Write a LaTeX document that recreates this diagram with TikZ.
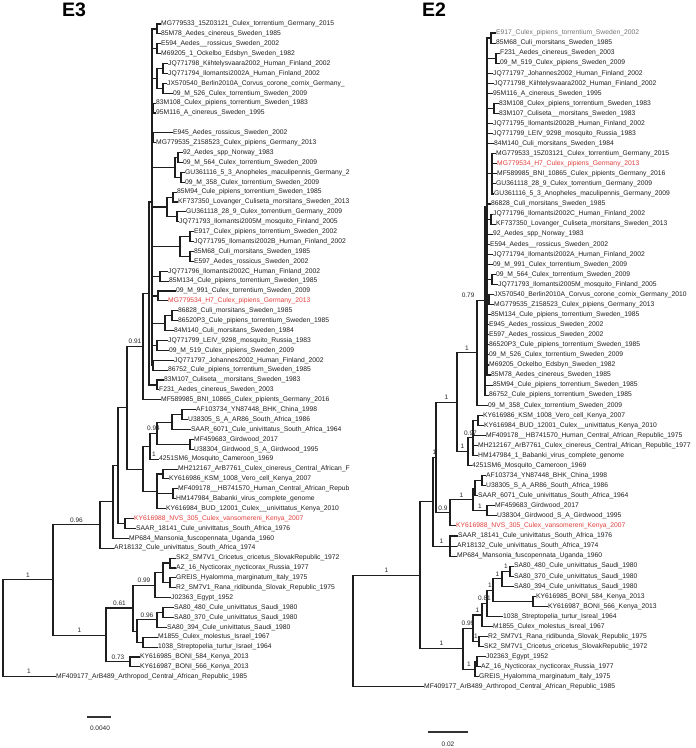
\documentclass[tikz,border=0pt]{standalone}
\usepackage{fontspec}
\setmainfont{Liberation Sans}
\usetikzlibrary{positioning}
\definecolor{branchgrey}{HTML}{1E1E1E}
\definecolor{tipred}{HTML}{E0403C}
\tikzset{
  leaf/.style={anchor=west,inner xsep=1pt,inner ysep=0pt,font=\fontsize{6.75}{7}\selectfont,text=black!88},
  redleaf/.style={leaf,text=tipred},
  paleleaf/.style={leaf,text=black!55},
  branch/.style={draw=branchgrey,line width=1.1pt,line cap=rect},
  support/.style={pos=0.75,anchor=south,yshift=2.2pt,inner sep=0pt,font=\fontsize{6.5}{7}\selectfont,text=black!85},
  supportleft/.style={support,pos=0.5,anchor=south east,xshift=-2pt},
  paneltitle/.style={font=\fontsize{19.5}{20}\selectfont\bfseries},
  scalebar/.style={draw=black!80,line width=1.3pt},
  scaletext/.style={font=\fontsize{6.5}{7}\selectfont,text=black!85}
}
\begin{document}
\begin{tikzpicture}[x=1pt,y=1pt]
\useasboundingbox (0,0) rectangle (696,-748);

% panel titles
\node[paneltitle] (titleE3) at (74,-10) {E3};
\node[paneltitle] (titleE2) at (434,-10) {E2};

%%%%%%%%%%%%%%%% E3 tree
\begin{scope}[y=-9.89pt,yshift=-14.11pt]
\foreach \i/\x/\t in {
 1/160/MG779533\_15Z03121\_Culex\_torrentium\_Germany\_2015,
 2/160/85M78\_Aedes\_cinereus\_Sweden\_1985,
 3/160/E594\_Aedes\_\_rossicus\_Sweden\_2002,
 4/160/M69205\_1\_Ockelbo\_Edsbyn\_Sweden\_1982,
 5/167/JQ771798\_Kiihtelysvaara2002\_Human\_Finland\_2002,
 6/167/JQ771794\_Ilomantsi2002A\_Human\_Finland\_2002,
 7/166/JX570540\_Berlin2010A\_Corvus\_corone\_cornix\_Germany\_,
 8/172/09\_M\_526\_Culex\_torrentium\_Sweden\_2009,
 9/155/83M108\_Culex\_pipiens\_torrentium\_Sweden\_1983,
 10/155/95M116\_A\_cinereus\_Sweden\_1995,
 11/172/E945\_Aedes\_rossicus\_Sweden\_2002,
 12/155/MG779535\_Z158523\_Culex\_pipiens\_Germany\_2013,
 13/182/92\_Aedes\_spp\_Norway\_1983,
 14/182/09\_M\_564\_Culex\_torrentium\_Sweden\_2009,
 15/184/GU361116\_5\_3\_Anopheles\_maculipennis\_Germany\_2,
 16/184/09\_M\_358\_Culex\_torrentium\_Sweden\_2009,
 17/176/85M94\_Cule\_pipiens\_torrentium\_Sweden\_1985,
 18/177/KF737350\_Lovanger\_Culiseta\_morsitans\_Sweden\_2013,
 19/185/GU361118\_28\_9\_Culex\_torrentium\_Germany\_2009,
 20/178/JQ771793\_Ilomantsi2005M\_mosquito\_Finland\_2005,
 21/193/E917\_Culex\_pipiens\_torrentium\_Sweden\_2002,
 22/193/JQ771795\_Ilomantsi2002B\_Human\_Finland\_2002,
 23/193/85M68\_Culi\_morsitans\_Sweden\_1985,
 24/193/E597\_Aedes\_rossicus\_Sweden\_2002,
 25/167/JQ771796\_Ilomantsi2002C\_Human\_Finland\_2002,
 26/168/85M134\_Cule\_pipiens\_torrentium\_Sweden\_1985,
 27/175/09\_M\_991\_Culex\_torrentium\_Sweden\_2009,
 29/177/86828\_Culi\_morsitans\_Sweden\_1985,
 30/177/86520P3\_Cule\_pipiens\_torrentium\_Sweden\_1985,
 31/173/84M140\_Culi\_morsitans\_Sweden\_1984,
 32/167/JQ771799\_LEIV\_9298\_mosquito\_Russia\_1983,
 33/168/09\_M\_519\_Culex\_pipiens\_Sweden\_2009,
 34/173/JQ771797\_Johannes2002\_Human\_Finland\_2002,
 35/167/86752\_Cule\_pipiens\_torrentium\_Sweden\_1985,
 36/163/83M107\_Culiseta\_\_morsitans\_Sweden\_1983,
 37/158/F231\_Aedes\_cinereus\_Sweden\_2003,
 38/160/MF589985\_BNI\_10865\_Culex\_pipients\_Germany\_2016,
 39/195/AF103734\_YN87448\_BHK\_China\_1998,
 40/187/U38305\_S\_A\_AR86\_South\_Africa\_1986,
 41/190/SAAR\_6071\_Cule\_univittatus\_South\_Africa\_1964,
 42/193/MF459683\_Girdwood\_2017,
 43/193/U38304\_Girdwood\_S\_A\_Girdwood\_1995,
 44/158/4251SM6\_Mosquito\_Cameroon\_1969,
 45/177/MH212167\_ArB7761\_Culex\_cinereus\_Central\_African\_F,
 46/168/KY616986\_KSM\_1008\_Vero\_cell\_Kenya\_2007,
 47/177/MF409178\_\_HB741570\_Human\_Central\_African\_Repub,
 48/175/HM147984\_Babanki\_virus\_complete\_genome,
 49/165/KY616984\_BUD\_12001\_Culex\_\_univittatus\_Kenya\_2010,
 51/135/SAAR\_18141\_Cule\_univittatus\_South\_Africa\_1976,
 52/128/MP684\_Mansonia\_fuscopennata\_Uganda\_1960,
 53/113/AR18132\_Cule\_univittatus\_South\_Africa\_1974,
 54/175/SK2\_SM7V1\_Cricetus\_cricetus\_SlovakRepublic\_1972,
 55/175/AZ\_16\_Nycticorax\_nycticorax\_Russia\_1977,
 56/175/GREIS\_Hyalomma\_marginatum\_Italy\_1975,
 57/175/R2\_SM7V1\_Rana\_ridibunda\_Slovak\_Republic\_1975,
 58/170/J02363\_Egypt\_1952,
 59/173/SA80\_480\_Cule\_univittatus\_Saudi\_1980,
 60/173/SA80\_370\_Cule\_univittatus\_Saudi\_1980,
 61/166/SA80\_394\_Cule\_univittatus\_Saudi\_1980,
 62/157/M1855\_Culex\_molestus\_Israel\_1967,
 63/157/1038\_Streptopelia\_turtur\_Israel\_1964,
 64/139/KY616985\_BONI\_584\_Kenya\_2013,
 65/139/KY616987\_BONI\_566\_Kenya\_2013,
 66/55/MF409177\_ArB489\_Arthropod\_Central\_African\_Republic\_1985}
  \node[leaf] (a\i) at (\x,{\i+(\i>10)}) {\t};
\node[redleaf] (a28) at (167,29) {MG779534\_H7\_Culex\_pipiens\_Germany\_2013};
\node[redleaf] (a50) at (133,51) {KY616988\_NVS\_305\_Culex\_vansomereni\_Kenya\_2007};

% inner nodes
\coordinate (n1) at (157,1.5);   \coordinate (n2) at (157,3.5);   \coordinate (n12) at (152,2.5);
\coordinate (n3) at (163,5.5);   \coordinate (n4) at (163,7.5);   \coordinate (n34) at (157,6.5);
\coordinate (n5) at (153,9.5);   \coordinate (n6) at (153,12.5);
\coordinate (n7) at (178,14.5);  \coordinate (n8) at (181,16.5);  \coordinate (n78) at (175,15.5);
\coordinate (n9) at (173,18.5);  \coordinate (n10) at (177,20.5); \coordinate (n910) at (167,19.5);
\coordinate (n11) at (190,22.5); \coordinate (n13) at (190,24.5); \coordinate (n1113) at (180,23.5);
\coordinate (n14) at (160,26.5); \coordinate (n15) at (158,28.5);
\coordinate (n16) at (172,30.5); \coordinate (n1617) at (165,31.25);
\coordinate (n18) at (157,33.5); \coordinate (n19) at (153,35.5); \coordinate (n20) at (157,37.5);
\coordinate (eua) at (152,19);   \coordinate (eu) at (149,28.25); \coordinate (c7) at (143,33.6);
\coordinate (p39) at (182,40.5); \coordinate (af) at (172,41.25); \coordinate (gw) at (190,43.5);
\coordinate (af2) at (157,42.4); \coordinate (af1) at (150,43.7);
\coordinate (b45) at (163,46.5); \coordinate (b47) at (173,48.5); \coordinate (bab) at (157,48.25);
\coordinate (d) at (143,46);     \coordinate (c6) at (127,39.8);
\coordinate (p50) at (125,51.5); \coordinate (c5) at (118,45.65); \coordinate (c4) at (113,49.3);
\coordinate (c2) at (100,51.65);
\coordinate (c12a) at (170,55.5); \coordinate (c12b) at (170,57.5); \coordinate (c12) at (163,56.5);
\coordinate (c10) at (155,57.75);
\coordinate (c13a) at (163,60.5); \coordinate (c13) at (157,61.25); \coordinate (c14) at (143,63.5);
\coordinate (c11) at (137,62.4); \coordinate (c8) at (133,60.05); \coordinate (c9) at (130,65.5);
\coordinate (c3) at (106,62.8);  \coordinate (c1) at (53,57.2);   \coordinate (r0) at (3,62.1);

\foreach \p/\c in {n1/a1,n1/a2,n2/a3,n2/a4,n12/n1,n12/n2,n3/a5,n3/a6,n4/a7,n4/a8,n34/n3,n34/n4,
  n5/a9,n5/a10,n6/a11,n6/a12,n7/a13,n7/a14,n8/a15,n8/a16,n78/n7,n78/n8,n9/a17,n9/a18,n10/a19,n10/a20,
  n910/n9,n910/n10,n11/a21,n11/a22,n13/a23,n13/a24,n1113/n11,n1113/n13,n14/a25,n14/a26,n15/a27,n15/a28,
  n16/a29,n16/a30,n1617/n16,n1617/a31,n18/a32,n18/a33,n19/a34,n19/a35,n20/a36,n20/a37,
  eua/n12,eua/n34,eua/n5,eua/n6,eua/n78,eua/n910,eua/n1113,eua/n14,eua/n15,eua/n1617,eua/n18,eua/n19,
  eu/eua,eu/n20,c7/eu,c7/a38,p39/a39,p39/a40,af/p39,af/a41,gw/a42,gw/a43,af2/af,af2/gw,
  b45/a45,b45/a46,b47/a47,b47/a48,bab/b45,bab/b47,bab/a49,d/af1,d/bab,c6/d,p50/a50,p50/a51,
  c5/c6,c5/p50,c4/c5,c4/a52,c2/c4,c2/a53,c12a/a54,c12a/a55,c12b/a56,c12b/a57,c12/c12a,c12/c12b,
  c10/c12,c10/a58,c13a/a59,c13a/a60,c13/c13a,c13/a61,c14/a62,c14/a63,c11/c14,c8/c11,c9/a64,c9/a65}
  \draw[branch] (\p) |- (\c);
\foreach \p/\c/\s in {r0/c1/1,r0/a66/1,c1/c2/0.96,c1/c3/1,c3/c8/0.61,c3/c9/0.73,c8/c10/0.99,
  c11/c13/0.96,c6/c7/0.91,af1/af2/0.94,af1/a44/1}
  \draw[branch] (\p) |- node[support] {\s} (\c);
\end{scope}

%%%%%%%%%%%%%%%% E2 tree
\begin{scope}[y=-10.06pt,yshift=-22.94pt]
\foreach \i/\x/\t in {
 2/495/85M68\_Culi\_morsitans\_Sweden\_1985,
 3/499/F231\_Aedes\_cinereus\_Sweden\_2003,
 4/499/09\_M\_519\_Culex\_pipiens\_Sweden\_2009,
 5/492/JQ771797\_Johannes2002\_Human\_Finland\_2002,
 6/493/JQ771798\_Kiihtelysvaara2002\_Human\_Finland\_2002,
 7/492/95M116\_A\_cinereus\_Sweden\_1995,
 8/498/83M108\_Culex\_pipiens\_torrentium\_Sweden\_1983,
 9/498/83M107\_Culiseta\_\_morsitans\_Sweden\_1983,
 10/492/JQ771795\_Ilomantsi2002B\_Human\_Finland\_2002,
 11/492/JQ771799\_LEIV\_9298\_mosquito\_Russia\_1983,
 12/493/84M140\_Culi\_morsitans\_Sweden\_1984,
 13/495/MG779533\_15Z03121\_Culex\_torrentium\_Germany\_2015,
 15/496/MF589985\_BNI\_10865\_Culex\_pipients\_Germany\_2016,
 16/495/GU361118\_28\_9\_Culex\_torrentium\_Germany\_2009,
 17/493/GU361116\_5\_3\_Anopheles\_maculipennis\_Germany\_2009,
 18/490/86828\_Culi\_morsitans\_Sweden\_1985,
 19/492/JQ771796\_Ilomantsi2002C\_Human\_Finland\_2002,
 20/495/KF737350\_Lovanger\_Culiseta\_morsitans\_Sweden\_2013,
 21/492/92\_Aedes\_spp\_Norway\_1983,
 22/489/E594\_Aedes\_\_rossicus\_Sweden\_2002,
 23/492/JQ771794\_Ilomantsi2002A\_Human\_Finland\_2002,
 24/492/09\_M\_991\_Culex\_torrentium\_Sweden\_2009,
 25/495/09\_M\_564\_Culex\_torrentium\_Sweden\_2009,
 26/497/JQ771793\_Ilomantsi2005M\_mosquito\_Finland\_2005,
 27/493/JX570540\_Berlin2010A\_Corvus\_corone\_cornix\_Germany\_2010,
 28/493/MG779535\_Z158523\_Culex\_pipiens\_Germany\_2013,
 29/490/85M134\_Cule\_pipiens\_torrentium\_Sweden\_1985,
 30/488/E945\_Aedes\_rossicus\_Sweden\_2002,
 31/488/E597\_Aedes\_rossicus\_Sweden\_2002,
 32/488/86520P3\_Cule\_pipiens\_torrentium\_Sweden\_1985,
 33/488/09\_M\_526\_Culex\_torrentium\_Sweden\_2009,
 34/488/M69205\_Ockelbo\_Edsbyn\_Sweden\_1982,
 35/490/85M78\_Aedes\_cinereus\_Sweden\_1985,
 36/492/85M94\_Cule\_pipiens\_torrentium\_Sweden\_1985,
 37/488/86752\_Cule\_pipiens\_torrentium\_Sweden\_1985,
 38/487/09\_M\_358\_Culex\_torrentium\_Sweden\_2009,
 39/482/KY616986\_KSM\_1008\_Vero\_cell\_Kenya\_2007,
 40/483/KY616984\_BUD\_12001\_Culex\_\_univittatus\_Kenya\_2010,
 41/485/MF409178\_\_HB741570\_Human\_Central\_African\_Republic\_1975,
 42/477/MH212167\_ArB7761\_Culex\_cinereus\_Central\_African\_Republic\_1977,
 43/477/HM147984\_1\_Babanki\_virus\_complete\_genome,
 44/471/4251SM6\_Mosquito\_Cameroon\_1969,
 45/485/AF103734\_YN87448\_BHK\_China\_1998,
 46/485/U38305\_S\_A\_AR86\_South\_Africa\_1986,
 47/477/SAAR\_6071\_Cule\_univittatus\_South\_Africa\_1964,
 48/494/MF459683\_Girdwood\_2017,
 49/496/U38304\_Girdwood\_S\_A\_Girdwood\_1995,
 51/457/SAAR\_18141\_Cule\_univittatus\_South\_Africa\_1976,
 52/456/AR18132\_Cule\_univittatus\_South\_Africa\_1974,
 53/456/MP684\_Mansonia\_fuscopennata\_Uganda\_1960,
 54/513/SA80\_480\_Cule\_univittatus\_Saudi\_1980,
 55/513/SA80\_370\_Cule\_univittatus\_Saudi\_1980,
 56/513/SA80\_394\_Cule\_univittatus\_Saudi\_1980,
 57/535/KY616985\_BONI\_584\_Kenya\_2013,
 58/547/KY616987\_BONI\_566\_Kenya\_2013,
 59/502/1038\_Streptopelia\_turtur\_Isreal\_1964,
 60/492/M1855\_Culex\_molestus\_Isreal\_1967,
 61/487/R2\_SM7V1\_Rana\_ridibunda\_Slovak\_Republic\_1975,
 62/483/SK2\_SM7V1\_Cricetus\_cricetus\_SlovakRepublic\_1972,
 63/485/J02363\_Egypt\_1952,
 64/480/AZ\_16\_Nycticorax\_nycticorax\_Russia\_1977,
 65/478/GREIS\_Hyalomma\_marginatum\_Italy\_1975,
 66/423/MF409177\_ArB489\_Arthropod\_Central\_African\_Republic\_1985}
  \node[leaf] (b\i) at (\x,\i) {\t};
\node[paleleaf] (b1) at (495,1) {E917\_Culex\_pipiens\_torrentium\_Sweden\_2002};
\node[redleaf] (b14) at (496,14) {MG779534\_H7\_Culex\_pipiens\_Germany\_2013};
\node[redleaf] (b50) at (455,50) {KY616988\_NVS\_305\_Culex\_vansomereni\_Kenya\_2007};

% inner nodes
\coordinate (qr1) at (491,1.5);  \coordinate (qr3) at (496,3.5);  \coordinate (qr8) at (494,8.5);
\coordinate (qr13) at (492,15);  \coordinate (qr19) at (491,19.5); \coordinate (qr25) at (492,25.5);
\coordinate (qr27) at (489,27.5); \coordinate (qs1) at (487,18.25); \coordinate (qe79) at (485,27.6);
\coordinate (qy) at (477,32.8);
\coordinate (qb2) at (478,39.5); \coordinate (qb1) at (473,41.25); \coordinate (qbab) at (468,42.6);
\coordinate (qu1) at (457,37.7);
\coordinate (qaf45) at (482,45.5); \coordinate (qaf1) at (475,46.25); \coordinate (qgw) at (487,48.5);
\coordinate (qaf2) at (473,47.4); \coordinate (qafr) at (450,48.7); \coordinate (qp) at (436,43.2);
\coordinate (qsar) at (450,52);  \coordinate (qu0) at (433,47.6);
\coordinate (qsap) at (510,54.5); \coordinate (qsag) at (502,55.25); \coordinate (qboni) at (533,57.5);
\coordinate (ql1s) at (493,56.4); \coordinate (ql81) at (487,57.7); \coordinate (ql1a) at (482,58.85);
\coordinate (ql1b) at (479,61.5); \coordinate (ql1) at (473,60.2);
\coordinate (ql2a) at (477,63.5); \coordinate (ql2) at (475,64.25); \coordinate (ql) at (463,62.2);
\coordinate (qc1) at (420,54.9); \coordinate (qr0) at (353,60.5);

\foreach \p/\c in {qr1/b1,qr1/b2,qr3/b3,qr3/b4,qr8/b8,qr8/b9,qr13/b13,qr13/b14,qr13/b15,qr13/b16,qr13/b17,
  qr19/b19,qr19/b20,qr25/b25,qr25/b26,qr27/b27,qr27/b28,
  qs1/qr1,qs1/qr3,qs1/b5,qs1/b6,qs1/b7,qs1/qr8,qs1/b10,qs1/b11,qs1/b12,qs1/qr13,qs1/b18,qs1/qr19,
  qs1/b21,qs1/b22,qs1/b23,qs1/b24,qs1/qr25,qs1/qr27,qs1/b29,qs1/b30,qs1/b31,qs1/b32,qs1/b33,qs1/b34,qs1/b35,
  qe79/qs1,qe79/b36,qe79/b37,qy/b38,qb2/b39,qb2/b40,qb1/qb2,qb1/b41,qb1/b42,qb1/b43,qbab/b44,
  qaf45/b45,qaf45/b46,qaf1/qaf45,qaf1/b47,qgw/b48,qgw/b49,qaf2/qaf1,qafr/b50,qsar/b51,qsar/b52,qsar/b53,
  qsap/b54,qsap/b55,qsag/b56,qboni/b57,qboni/b58,ql1s/qboni,ql81/b59,ql1a/b60,ql1b/b61,ql1b/b62,
  ql2a/b63,ql2a/b64,ql2/ql2a,ql2/b65,qc1/qu0,qr0/b66}
  \draw[branch] (\p) |- (\c);
\draw[branch] (qy) |- node[supportleft] {0.79} (qe79);
\foreach \p/\c/\s in {qu1/qy/1,qu1/qbab/1,qbab/qb1/0.97,qp/qu1/1,qu0/qp/1,qaf2/qgw/1,
  qafr/qaf2/1,qp/qafr/0.9,qu0/qsar/1,qsag/qsap/1,ql1s/qsag/1,ql81/ql1s/1,ql1a/ql81/0.81,ql1/ql1a/1,
  ql1/ql1b/1,ql/ql1/0.99,ql/ql2/1,qc1/ql/1,qr0/qc1/1}
  \draw[branch] (\p) |- node[support] {\s} (\c);
\end{scope}

% scale bars
\coordinate (sbLa) at (87,-717);  \coordinate (sbLb) at (111,-717);
\draw[scalebar] (sbLa) -- (sbLb);
\node[scaletext] (sbLt) at (100,-728) {0.0040};
\coordinate (sbRa) at (428,-732); \coordinate (sbRb) at (468,-732);
\draw[scalebar] (sbRa) -- (sbRb);
\node[scaletext] (sbRt) at (448,-744) {0.02};
\end{tikzpicture}
\end{document}
